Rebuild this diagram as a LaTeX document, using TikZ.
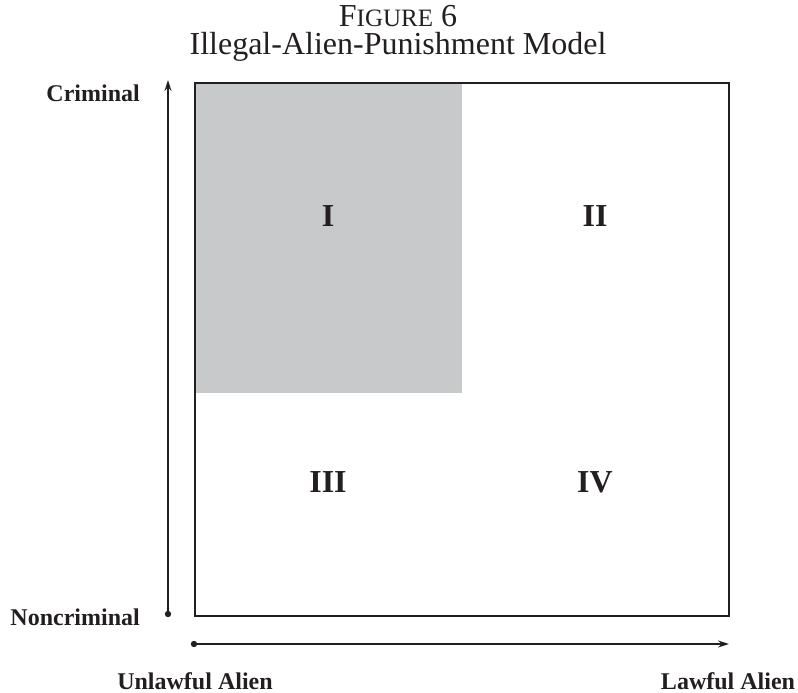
\documentclass[tikz,border=0pt]{standalone}
\usepackage{fontspec}
\setmainfont{Liberation Serif}
\usetikzlibrary{arrows.meta}
\definecolor{ink}{RGB}{35,31,32}
\definecolor{quadgrey}{RGB}{200,201,203}
\tikzset{
  axislabel/.style={font=\fontsize{24}{28}\selectfont\bfseries, text=ink, inner sep=0pt, text height=17pt, text depth=0pt},
  numeral/.style={font=\fontsize{32}{36}\selectfont\bfseries, text=ink, inner sep=0pt, anchor=base},
  titletext/.style={font=\fontsize{32}{28}\selectfont, text=ink, inner sep=0pt, align=center, text depth=0pt},
  axisline/.style={draw=ink, line width=1.3pt},
  dot/.style={fill=ink}
}
\begin{document}
\begin{tikzpicture}[x=1pt,y=-1pt]
\useasboundingbox (0,0) rectangle (798,693);
% title
\node[titletext, anchor=south] (title) at (398,55) {F{\fontsize{25}{28}\selectfont IGURE} 6\\Illegal-Alien-Punishment Model};
% shaded quadrant and frame
\fill[quadgrey] (195,83) rectangle (462,393);
\node[draw=ink, line width=1.3pt, anchor=north west, minimum width=534pt, minimum height=533pt, inner sep=0pt, outer sep=0pt] (box) at (195,83) {};
% quadrant numerals
\node[numeral] (q1) at (328,226) {I};
\node[numeral] (q2) at (595,226) {II};
\node[numeral] (q3) at (328,492) {III};
\node[numeral] (q4) at (595,492) {IV};
% vertical axis
\coordinate (vs) at (168,614);
\coordinate (ve) at (168,80);
\draw[axisline, -{Stealth[length=11pt,width=7pt]}] (vs) -- (ve);
\fill[dot] (vs) circle (3.2pt);
% horizontal axis
\coordinate (hs) at (194,644);
\coordinate (he) at (729,644);
\draw[axisline, -{Stealth[length=11pt,width=7pt]}] (hs) -- (he);
\fill[dot] (hs) circle (3.2pt);
% axis labels
\node[axislabel, anchor=base east] (crim) at (140,102) {Criminal};
\node[axislabel, anchor=base east] (noncrim) at (140,625) {Noncriminal};
\node[axislabel, anchor=base] (unlaw) at (195,689) {Unlawful Alien};
\node[axislabel, anchor=base] (law) at (728,689) {Lawful Alien};
\end{tikzpicture}
\end{document}
